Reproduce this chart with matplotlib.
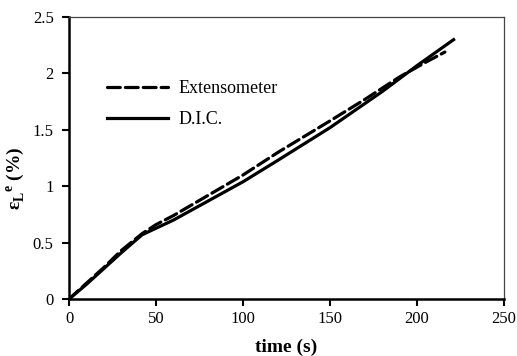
import matplotlib
matplotlib.use('Agg')
import matplotlib.pyplot as plt

plt.rcParams['font.family'] = 'Liberation Serif'
plt.rcParams['mathtext.fontset'] = 'custom'
plt.rcParams['mathtext.bf'] = 'Liberation Serif:bold'
plt.rcParams['mathtext.rm'] = 'Liberation Serif'

# D.I.C. (solid) and extensometer (dashed) readings
t_dic = [0, 10, 20, 30, 42, 60, 80, 100, 120, 150, 180, 200, 221]
e_dic = [0, 0.13, 0.27, 0.41, 0.57, 0.70, 0.87, 1.04, 1.23, 1.52, 1.84, 2.07, 2.30]

t_ext = [0, 10, 20, 30, 42, 50, 60, 80, 100, 120, 150, 170, 190, 205, 216]
e_ext = [0, 0.14, 0.28, 0.43, 0.58, 0.66, 0.74, 0.92, 1.10, 1.30, 1.58, 1.77, 1.97, 2.10, 2.19]

xticks = [0, 50, 100, 150, 200, 250]
yticks = [0, 0.5, 1, 1.5, 2, 2.5]

fig = plt.figure(figsize=(5.17, 3.56), dpi=100)
ax = fig.add_axes([0.1335, 0.160, 0.8415, 0.792])

ax.plot(t_ext, e_ext, color='black', lw=2.3, linestyle=(0, (4, 1.6)),
        solid_capstyle='round', dash_capstyle='round', label='Extensometer')
ax.plot(t_dic, e_dic, color='black', lw=2.3, label='D.I.C.')

ax.set_xlim(0, 250)
ax.set_ylim(0, 2.5)
ax.set_xticks(xticks)
ax.set_yticks(yticks)
ax.set_xticklabels([str(v) for v in xticks])
ax.set_yticklabels(['0', '0.5', '1', '1.5', '2', '2.5'])
ax.tick_params(direction='out', length=5, width=1.5, labelsize=12)
ax.tick_params(axis='y', pad=6)

for s in ['left', 'bottom']:
    ax.spines[s].set_linewidth(1.8)
for s in ['top', 'right']:
    ax.spines[s].set_linewidth(0.9)
    ax.spines[s].set_color('#444444')

ax.set_xlabel('time (s)', fontsize=14, fontweight='bold')
ax.xaxis.set_label_coords(0.5, -0.14)
ax.set_ylabel(r'ε$_\mathbf{L}$$^\mathbf{e}$ (%)', fontsize=14, fontweight='bold')
ax.yaxis.set_label_coords(-0.097, 0.43)

ax.legend(loc='upper left', bbox_to_anchor=(0.05, 0.835), frameon=False,
          handlelength=3.4, labelspacing=0.8, fontsize=13, handletextpad=0.55)

fig.savefig('out.png', dpi=100)
